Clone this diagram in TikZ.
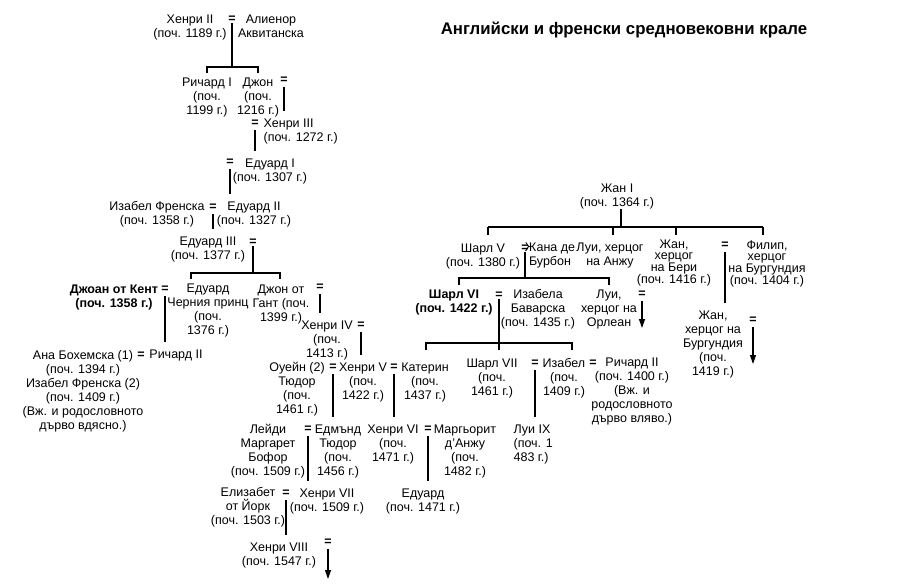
\documentclass[tikz,border=0pt]{standalone}
\usepackage{fontspec}
\setmainfont{Liberation Sans}
\usetikzlibrary{arrows.meta}
\newcommand{\kingfont}{\fontsize{12.5pt}{14pt}\selectfont}
\newcommand{\tightfont}{\fontsize{12.5pt}{11.5pt}\selectfont}
\tikzset{
  king/.style={align=center,inner sep=0pt,font=\kingfont},
  wed/.style={inner sep=0pt,font=\kingfont\bfseries},
  stem/.style={shorten <=3pt,shorten >=7pt},
  heir/.style={shorten <=3pt,-{Triangle[length=9pt,width=6pt]}},
}
\begin{document}
\begin{tikzpicture}[x=1pt,y=-1pt,line width=1.2pt]
  \useasboundingbox(0,0) rectangle(900,588);
  \node[font=\fontsize{16.8pt}{18pt}\selectfont\bfseries](title) at(624,30){Английски и френски средновековни крале};
  % English line
  \node[king](h2) at(190,27){Хенри II\\(поч. 1189 г.)};
  \node[wed](m1) at(232,19){=};
  \node[king](al) at(271,26){Алиенор\\Аквитанска};
  \coordinate(b1l) at(207,67);
  \coordinate(b1r) at(258,67);
  \draw(m1.south)--(m1.south|-b1l);
  \draw([yshift=-6pt]b1l)--(b1l)--(b1r)--([yshift=-6pt]b1r);
  \node[king](ric1) at(207,97){Ричард I\\(поч.\\1199 г.)};
  \node[king](john) at(258,97){Джон\\(поч.\\1216 г.)};
  \node[wed](m2) at(284,80){=};
  \node[wed](m3) at(255,123){=};
  \node[king,align=left,anchor=west](h3) at(263,131){Хенри III\\(поч. 1272 г.)};
  \draw[stem](m2.south)--(m2.south|-h3.north);
  \node[wed](m4) at(230,162){=};
  \node[king](ed1) at(270,171){Едуард I\\(поч. 1307 г.)};
  \draw[stem](m3.south)--(m3.south|-ed1.north);
  \node[king](isf) at(157,214){Изабел Френска\\(поч. 1358 г.)};
  \node[wed](m5) at(213,207){=};
  \node[king](ed2) at(254,214){Едуард II\\(поч. 1327 г.)};
  \draw[stem](m4.south)--(m4.south|-ed2.north);
  \node[king](ed3) at(208,249){Едуард III\\(поч. 1377 г.)};
  \node[wed](m6) at(253,242){=};
  \draw[stem](m5.south)--(m5.south|-ed3.north);
  \coordinate(b2l) at(191,273);
  \coordinate(b2r) at(280,273);
  \draw(m6.south)--(m6.south|-b2l);
  \draw([yshift=-6pt]b2l)--(b2l)--(b2r)--([yshift=-6pt]b2r);
  \node[king,font=\kingfont\bfseries](joan) at(114,297){Джоан от Кент\\(поч. 1358 г.)};
  \node[wed](m7) at(165,289){=};
  \node[king](blk) at(208,310){Едуард\\Черния принц\\(поч.\\1376 г.)};
  \node[king](gnt) at(281,304){Джон от\\Гант (поч.\\1399 г.)};
  \node[wed](m8) at(320,287){=};
  \node[king](h4) at(327,340){Хенри IV\\(поч.\\1413 г.)};
  \node[wed](m9) at(361,325){=};
  \draw[stem](m8.south)--(m8.south|-h4.north);
  \node[king](ana) at(83,391){Ана Бохемска (1)\\(поч. 1394 г.)\\Изабел Френска (2)\\(поч. 1409 г.)\\(Вж. и родословното\\дърво вдясно.)};
  \node[wed](m10) at(141,355){=};
  \node[king](ric2) at(176,355){Ричард II};
  \draw[stem](m7.south)--(m7.south|-ric2.north);
  \node[king](owen) at(297,389){Оуейн (2)\\Тюдор\\(поч.\\1461 г.)};
  \node[wed](m11) at(333,367){=};
  \node[king](h5) at(363,382){Хенри V\\(поч.\\1422 г.)};
  \node[wed](m12) at(394,367){=};
  \node[king](kat) at(425,382){Катерин\\(поч.\\1437 г.)};
  \draw[stem](m9.south)--(m9.south|-h5.north);
  \node[king](lady) at(268,451){Лейди\\Маргарет\\Бофор\\(поч. 1509 г.)};
  \node[wed](m13) at(308,429){=};
  \node[king](edt) at(338,451){Едмънд\\Тюдор\\(поч.\\1456 г.)};
  \node[king](h6) at(393,444){Хенри VI\\(поч.\\1471 г.)};
  \node[wed](m14) at(428,429){=};
  \node[king](mrg) at(465,451){Маргьорит\\д'Анжу\\(поч.\\1482 г.)};
  \draw[stem](m11.south)--(m11.south|-edt.north);
  \draw[stem](m12.south)--(m12.south|-h6.north);
  \node[king](eliz) at(248,507){Елизабет\\от Йорк\\(поч. 1503 г.)};
  \node[wed](m15) at(286,493){=};
  \node[king](h7) at(327,501){Хенри VII\\(поч. 1509 г.)};
  \node[king](edw) at(423,501){Едуард\\(поч. 1471 г.)};
  \draw[stem](m13.south)--(m13.south|-h7.north);
  \draw[stem](m14.south)--(m14.south|-edw.north);
  \node[king](h8) at(279,555){Хенри VIII\\(поч. 1547 г.)};
  \node[wed](m16) at(328,542){=};
  \coordinate(h8end) at(328,579);
  \draw[stem](m15.south)--(m15.south|-h8.north);
  \draw[heir](m16.south)--(h8end);
  % French line
  \node[king](jean1) at(617,196){Жан I\\(поч. 1364 г.)};
  \coordinate(b3m) at(621,227);
  \coordinate(b3a) at(488,227);
  \coordinate(b3b) at(613,227);
  \coordinate(b3c) at(676,227);
  \coordinate(b3d) at(763,227);
  \draw(jean1.south-|b3m)--(b3m);
  \draw(b3a)--(b3d);
  \foreach \t in {b3a,b3b,b3c,b3d}
    \draw(\t)--++(0,8);
  \node[king](ch5) at(483,256){Шарл V\\(поч. 1380 г.)};
  \node[wed](m17) at(525,248){=};
  \node[king](jbb) at(550,255){Жана де\\Бурбон};
  \node[king](lanj) at(610,255){Луи, херцог\\на Анжу};
  \node[king,font=\tightfont](bery) at(674,263){Жан,\\херцог\\на Бери\\(поч. 1416 г.)};
  \node[wed](m18) at(725,245){=};
  \node[king,font=\tightfont](phil) at(767,264){Филип,\\херцог\\на Бургундия\\(поч. 1404 г.)};
  \coordinate(b4l) at(459,278);
  \coordinate(b4r) at(609,278);
  \draw(m17.south)--(m17.south|-b4l);
  \draw([yshift=-7pt]b4l)--(b4l)--(b4r)--([yshift=-7pt]b4r);
  \node[king,font=\kingfont\bfseries](ch6) at(454,302){Шарл VI\\(поч. 1422 г.)};
  \node[wed](m19) at(499,295){=};
  \node[king](isb) at(538,309){Изабела\\Баварска\\(поч. 1435 г.)};
  \node[king](lorl) at(609,309){Луи,\\херцог на\\Орлеан};
  \node[wed](m20) at(642,294){=};
  \coordinate(lorlend) at(642,328);
  \draw[heir](m20.south)--(lorlend);
  \node[king](jnb) at(713,344){Жан,\\херцог на\\Бургундия\\(поч.\\1419 г.)};
  \node[wed](m21) at(753,320){=};
  \coordinate(jnbend) at(753,364);
  \draw[heir](m21.south)--(jnbend);
  \draw[stem](m18.south)--(m18.south|-jnb.north);
  \coordinate(b5m) at(499,343);
  \coordinate(b5l) at(426,343);
  \coordinate(b5r) at(572,343);
  \draw(m19.south)--([yshift=-7pt]b5m);
  \draw([yshift=-7pt]b5l)--(b5l)--(b5r)--([yshift=-7pt]b5r);
  \node[king](ch7) at(492,378){Шарл VII\\(поч.\\1461 г.)};
  \node[wed](m22) at(535,363){=};
  \node[king](isab) at(564,378){Изабел\\(поч.\\1409 г.)};
  \node[wed](m23) at(593,363){=};
  \node[king](ric2f) at(632,391){Ричард II\\(поч. 1400 г.)\\(Вж. и\\родословното\\дърво вляво.)};
  \node[king,align=left,anchor=west](lou9) at(513,444){Луи IX\\(поч. 1\\483 г.)};
  \draw[stem](m22.south)--(m22.south|-lou9.north);
\end{tikzpicture}
\end{document}
